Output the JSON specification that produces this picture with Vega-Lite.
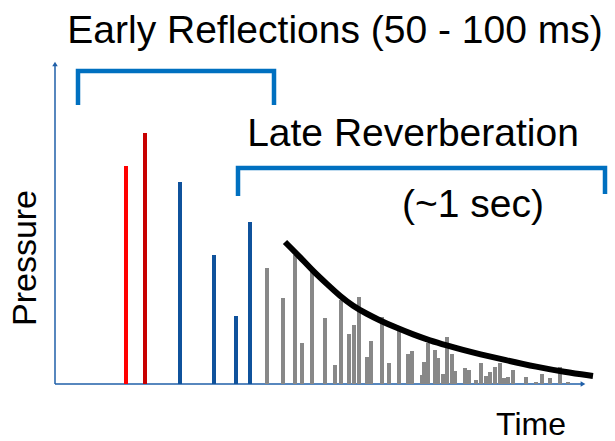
{
  "$schema": "https://vega.github.io/schema/vega-lite/v6.json",
  "width": 615,
  "height": 441,
  "padding": 0,
  "autosize": {"type": "none"},
  "background": "white",
  "config": {"view": {"stroke": null}, "font": "Liberation Sans"},
  "datasets": {
    "bars": [
      {"t": 71, "p": 218, "kind": "red"},
      {"t": 90, "p": 251, "kind": "darkred"},
      {"t": 125, "p": 202, "kind": "blue"},
      {"t": 159, "p": 129, "kind": "blue"},
      {"t": 181, "p": 68, "kind": "blue"},
      {"t": 195, "p": 162, "kind": "blue"},
      {"t": 212, "p": 116, "kind": "gray"},
      {"t": 228, "p": 86, "kind": "gray"},
      {"t": 240, "p": 129, "kind": "gray"},
      {"t": 247, "p": 41, "kind": "gray"},
      {"t": 257, "p": 112, "kind": "gray"},
      {"t": 270, "p": 66, "kind": "gray"},
      {"t": 280, "p": 19, "kind": "gray"},
      {"t": 286, "p": 84, "kind": "gray"},
      {"t": 294, "p": 50, "kind": "gray"},
      {"t": 299, "p": 59, "kind": "gray"},
      {"t": 304, "p": 87, "kind": "gray"},
      {"t": 312, "p": 27, "kind": "gray"},
      {"t": 316, "p": 43, "kind": "gray"},
      {"t": 327, "p": 67, "kind": "gray"},
      {"t": 334, "p": 21, "kind": "gray"},
      {"t": 344, "p": 54, "kind": "gray"},
      {"t": 353, "p": 30, "kind": "gray"},
      {"t": 357, "p": 33, "kind": "gray"},
      {"t": 367, "p": 9, "kind": "gray"},
      {"t": 369, "p": 22, "kind": "gray"},
      {"t": 373, "p": 41, "kind": "gray"},
      {"t": 380, "p": 34, "kind": "gray"},
      {"t": 383, "p": 26, "kind": "gray"},
      {"t": 388, "p": 10, "kind": "gray"},
      {"t": 392, "p": 47, "kind": "gray"},
      {"t": 397, "p": 30, "kind": "gray"},
      {"t": 400, "p": 13, "kind": "gray"},
      {"t": 410, "p": 16, "kind": "gray"},
      {"t": 414, "p": 14, "kind": "gray"},
      {"t": 421, "p": 4, "kind": "gray"},
      {"t": 426, "p": 21, "kind": "gray"},
      {"t": 431, "p": 8, "kind": "gray"},
      {"t": 435, "p": 12, "kind": "gray"},
      {"t": 440, "p": 17, "kind": "gray"},
      {"t": 445, "p": 21, "kind": "gray"},
      {"t": 449, "p": 6, "kind": "gray"},
      {"t": 453, "p": 7, "kind": "gray"},
      {"t": 458, "p": 14, "kind": "gray"},
      {"t": 471, "p": 7, "kind": "gray"},
      {"t": 481, "p": 2, "kind": "gray"},
      {"t": 487, "p": 10, "kind": "gray"},
      {"t": 495, "p": 6, "kind": "gray"},
      {"t": 505, "p": 17, "kind": "gray"},
      {"t": 513, "p": 2, "kind": "gray"}
    ],
    "curve": [
      {"t": 230, "p": 142},
      {"t": 245, "p": 127},
      {"t": 258, "p": 113},
      {"t": 272, "p": 100},
      {"t": 285, "p": 88},
      {"t": 298, "p": 78},
      {"t": 312, "p": 70},
      {"t": 325, "p": 63.5},
      {"t": 342, "p": 56},
      {"t": 358, "p": 49.5},
      {"t": 375, "p": 43.5},
      {"t": 392, "p": 38.5},
      {"t": 408, "p": 34},
      {"t": 424, "p": 30},
      {"t": 450, "p": 24},
      {"t": 482, "p": 17},
      {"t": 509, "p": 12},
      {"t": 538, "p": 8}
    ],
    "brackets": [
      {"g": "early", "o": 1, "t": 23, "p": 279},
      {"g": "early", "o": 2, "t": 23, "p": 313},
      {"g": "early", "o": 3, "t": 219, "p": 313},
      {"g": "early", "o": 4, "t": 219, "p": 279},
      {"g": "late", "o": 1, "t": 183, "p": 188},
      {"g": "late", "o": 2, "t": 183, "p": 216},
      {"g": "late", "o": 3, "t": 550, "p": 216},
      {"g": "late", "o": 4, "t": 550, "p": 190}
    ],
    "axes": [
      {"t1": 0, "p1": 0, "t2": 0, "p2": 320},
      {"t1": 0, "p1": 0, "t2": 528, "p2": 0}
    ],
    "arrowUp": [{"t": 0, "p": 320}],
    "arrowRight": [{"t": 528, "p": 0}],
    "labels": [
      {"t": 280, "p": 341, "text": "Early Reflections (50 - 100 ms)"},
      {"t": 358, "p": 238, "text": "Late Reverberation"},
      {"t": 418, "p": 167, "text": "(~1 sec)"}
    ],
    "xlabel": [{"t": 476, "p": -51, "text": "Time"}],
    "ylabel": [{"t": -29, "p": 126, "text": "Pressure"}]
  },
  "layer": [
    {
      "data": {"name": "axes"},
      "mark": {"type": "rule", "color": "#1f5fa8", "strokeWidth": 1.5},
      "encoding": {
        "x": {"field": "t1", "type": "quantitative", "scale": {"domain": [-55, 560], "nice": false, "zero": false}, "axis": null},
        "y": {"field": "p1", "type": "quantitative", "scale": {"domain": [-57, 384], "nice": false, "zero": false}, "axis": null},
        "x2": {"field": "t2"},
        "y2": {"field": "p2"}
      }
    },
    {
      "data": {"name": "arrowUp"},
      "mark": {"type": "point", "shape": "triangle-up", "filled": true, "color": "#1f5fa8", "size": 30, "opacity": 1},
      "encoding": {
        "x": {"field": "t", "type": "quantitative"},
        "y": {"field": "p", "type": "quantitative"}
      }
    },
    {
      "data": {"name": "arrowRight"},
      "mark": {"type": "point", "shape": "triangle-right", "filled": true, "color": "#1f5fa8", "size": 30, "opacity": 1},
      "encoding": {
        "x": {"field": "t", "type": "quantitative"},
        "y": {"field": "p", "type": "quantitative"}
      }
    },
    {
      "data": {"name": "bars"},
      "mark": {"type": "rule", "strokeWidth": 4},
      "encoding": {
        "x": {"field": "t", "type": "quantitative"},
        "y": {"field": "p", "type": "quantitative"},
        "y2": {"datum": 0},
        "color": {"field": "kind", "type": "nominal", "legend": null,
          "scale": {"domain": ["red", "darkred", "blue", "gray"], "range": ["#ff0000", "#c80000", "#0f529c", "#888888"]}}
      }
    },
    {
      "data": {"name": "curve"},
      "mark": {"type": "line", "color": "#000000", "strokeWidth": 6, "interpolate": "basis", "strokeCap": "butt"},
      "encoding": {
        "x": {"field": "t", "type": "quantitative"},
        "y": {"field": "p", "type": "quantitative"}
      }
    },
    {
      "data": {"name": "brackets"},
      "mark": {"type": "line", "color": "#0070c0", "strokeWidth": 4.5, "strokeCap": "butt", "strokeJoin": "miter"},
      "encoding": {
        "x": {"field": "t", "type": "quantitative"},
        "y": {"field": "p", "type": "quantitative"},
        "detail": {"field": "g", "type": "nominal"},
        "order": {"field": "o", "type": "quantitative"}
      }
    },
    {
      "data": {"name": "labels"},
      "mark": {"type": "text", "align": "center", "baseline": "alphabetic", "color": "#000000", "fontSize": 39},
      "encoding": {
        "x": {"field": "t", "type": "quantitative"},
        "y": {"field": "p", "type": "quantitative"},
        "text": {"field": "text", "type": "nominal"}
      }
    },
    {
      "data": {"name": "xlabel"},
      "mark": {"type": "text", "align": "center", "baseline": "alphabetic", "color": "#000000", "fontSize": 32},
      "encoding": {
        "x": {"field": "t", "type": "quantitative"},
        "y": {"field": "p", "type": "quantitative"},
        "text": {"field": "text", "type": "nominal"}
      }
    },
    {
      "data": {"name": "ylabel"},
      "mark": {"type": "text", "align": "center", "baseline": "middle", "angle": 270, "fontSize": 34, "color": "#000000"},
      "encoding": {
        "x": {"field": "t", "type": "quantitative"},
        "y": {"field": "p", "type": "quantitative"},
        "text": {"field": "text", "type": "nominal"}
      }
    }
  ]
}
